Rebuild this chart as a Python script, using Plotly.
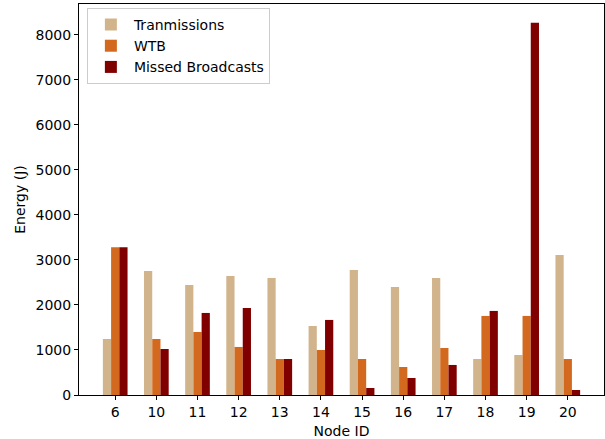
import plotly.graph_objects as go

nodes = ["6", "10", "11", "12", "13", "14", "15", "16", "17", "18", "19", "20"]
transmissions = [1244, 2756, 2444, 2644, 2600, 1533, 2778, 2400, 2600, 800, 889, 3111]
wtb = [3281, 1244, 1400, 1067, 800, 1000, 800, 622, 1044, 1756, 1756, 800]
missed = [3281, 1022, 1822, 1933, 800, 1667, 156, 378, 667, 1867, 8267, 111]

series = [
    ("Tranmissions", transmissions, "#d2b48c"),
    ("WTB", wtb, "#d2691e"),
    ("Missed Broadcasts", missed, "#800000"),
]

fig = go.Figure()
for name, vals, col in series:
    fig.add_trace(go.Bar(x=nodes, y=vals, name=name, legendgroup=name,
                         marker=dict(color=col, line=dict(width=0))))

font = dict(family="DejaVu Sans", size=14, color="black")
fig.update_layout(
    width=605, height=439,
    margin=dict(l=79, r=1, t=4, b=44),
    barmode="group", bargap=0.4, bargroupgap=0,
    plot_bgcolor="white", paper_bgcolor="white",
    font=font,
    legend=dict(x=0.015, y=0.99, xanchor="left", yanchor="top",
                bordercolor="#cccccc", borderwidth=1, bgcolor="rgba(255,255,255,0.8)",
                font=font, tracegroupgap=0, itemwidth=36),
    xaxis=dict(title=dict(text="Node ID", standoff=7, font=font), range=[-0.88, 11.88],
               tickfont=font, automargin=False,
               showline=True, linecolor="black", linewidth=1, mirror=True,
               ticks="outside", ticklen=4, tickcolor="black", showgrid=False),
    yaxis=dict(title=dict(text="Energy (J)", standoff=6, font=font), range=[0, 8683],
               tickvals=[0, 1000, 2000, 3000, 4000, 5000, 6000, 7000, 8000],
               tickfont=font, automargin=False,
               showline=True, linecolor="black", linewidth=1, mirror=True,
               ticks="outside", ticklen=4, tickcolor="black", showgrid=False, zeroline=False),
)

fig.write_html("out.html", config={"displayModeBar": False},
               post_script="document.body.style.margin='0px';")
